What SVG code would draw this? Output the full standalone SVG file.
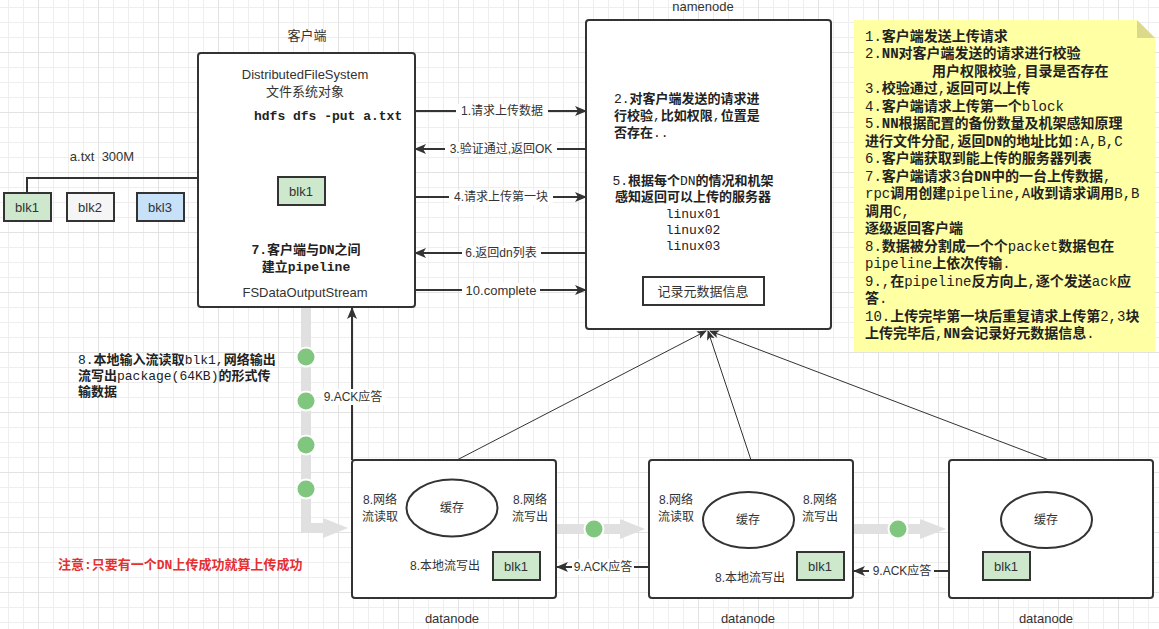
<svg xmlns="http://www.w3.org/2000/svg" width="1159" height="629" viewBox="0 0 1159 629">
<defs>
<pattern id="grid" x="38" y="52" width="60" height="60" patternUnits="userSpaceOnUse">
<rect width="60" height="60" fill="#fff"/>
<path d="M15.5,0V60M30.5,0V60M45.5,0V60M0,15.5H60M0,30.5H60M0,45.5H60" stroke="#eeeeee" stroke-width="1"/>
<path d="M0.5,0V60M0,0.5H60" stroke="#e2e2e2" stroke-width="1"/>
</pattern>
<marker id="a" viewBox="0 0 12 12" refX="11" refY="6" markerWidth="12" markerHeight="12" markerUnits="userSpaceOnUse" orient="auto"><path d="M0,1 L12,6 L0,11 L3,6 z" fill="#333"/></marker>
<marker id="as" viewBox="0 0 10 10" refX="9" refY="5" markerWidth="10" markerHeight="10" markerUnits="userSpaceOnUse" orient="auto"><path d="M0,1 L10,5 L0,9 L2.5,5 z" fill="#333"/></marker>
<style>
.box{fill:#fff;stroke:#333;stroke-width:2}
.t{font-family:"Liberation Sans","Noto Sans CJK SC",sans-serif;font-size:12px;fill:#333;text-anchor:middle;dominant-baseline:central}
.tl{font-size:13px}
.m{font-family:"Liberation Mono","Noto Sans CJK SC",monospace;font-size:13px;fill:#222;dominant-baseline:central;font-weight:bold}
.n{font-size:14px}
.r{font-weight:normal}
.e{stroke:#333;stroke-width:2;fill:none}
.thin{stroke:#333;stroke-width:1;fill:none}
.flow{stroke:#e0e0e0;stroke-width:10;fill:none}
.fh{fill:#e0e0e0}
.dot{fill:#80c67f;stroke:#fff;stroke-width:2}
.green{fill:#cde8cc;stroke:#333;stroke-width:2}
.lb{fill:#fff}
</style>
</defs>
<rect width="1159" height="629" fill="url(#grid)"/>

<g id="connectors">
<path class="flow" d="M306,307 V528 H324"/>
<polygon class="fh" points="323,518 348,528 323,538"/>
<path class="flow" d="M556,529 H621"/>
<polygon class="fh" points="620,519 645,529 620,539"/>
<path class="flow" d="M853,529 H921"/>
<polygon class="fh" points="920,519 946,529 920,539"/>
<circle class="dot" cx="306" cy="357" r="9.5"/>
<circle class="dot" cx="306" cy="401" r="9.5"/>
<circle class="dot" cx="306" cy="445" r="9.5"/>
<circle class="dot" cx="306" cy="489" r="9.5"/>
<circle class="dot" cx="594" cy="529" r="9.5"/>
<circle class="dot" cx="898" cy="529" r="9.5"/>

<path class="e" d="M415,111 H586" marker-end="url(#a)"/>
<path class="e" d="M586,149 H415" marker-end="url(#a)"/>
<path class="e" d="M415,197 H586" marker-end="url(#a)"/>
<path class="e" d="M586,253 H415" marker-end="url(#a)"/>
<path class="e" d="M415,290 H586" marker-end="url(#a)"/>
<path class="e" d="M27,193 V178 H228" marker-end="url(#a)"/>
<path class="e" d="M352,460 V308" marker-end="url(#a)"/>
<path class="e" d="M649,567 H557" marker-end="url(#a)"/>
<path class="e" d="M949,571 H854" marker-end="url(#a)"/>
<path class="thin" d="M457,460 L706,331" marker-end="url(#as)"/>
<path class="thin" d="M751,460 L708,331" marker-end="url(#as)"/>
<path class="thin" d="M1049,460 L710,331" marker-end="url(#as)"/>

<rect class="lb" x="456" y="104" width="92" height="15"/>
<text class="t" x="502" y="111">1.请求上传数据</text>
<rect class="lb" x="445" y="142" width="112" height="15"/>
<text class="t" x="501" y="149">3.验证通过,返回OK</text>
<rect class="lb" x="449" y="190" width="104" height="15"/>
<text class="t" x="501" y="197">4.请求上传第一块</text>
<rect class="lb" x="462" y="246" width="79" height="15"/>
<text class="t" x="501" y="253">6.返回dn列表</text>
<rect class="lb" x="462" y="283" width="78" height="15"/>
<text class="t tl" x="501" y="290">10.complete</text>
<rect class="lb" x="321" y="389" width="65" height="16"/>
<text class="t" x="353" y="397">9.ACK应答</text>
<rect class="lb" x="572" y="559" width="62" height="16"/>
<text class="t" x="603" y="567">9.ACK应答</text>
<rect class="lb" x="869" y="563" width="65" height="16"/>
<text class="t" x="902" y="571">9.ACK应答</text>
</g>

<g id="file">
<text class="t tl" x="102" y="156" xml:space="preserve">a.txt  300M</text>
<rect class="green" x="4" y="193" width="47" height="28"/>
<text class="t tl" x="27" y="207">blk1</text>
<rect x="67" y="193" width="47" height="28" fill="#f5f5f5" stroke="#333" stroke-width="2"/>
<text class="t tl" x="90" y="207">blk2</text>
<rect x="137" y="193" width="47" height="28" fill="#c7e1f9" stroke="#333" stroke-width="2"/>
<text class="t tl" x="160" y="207">bkl3</text>
</g>

<g id="client">
<text class="t tl" x="307" y="35">客户端</text>
<rect class="box" x="198" y="53" width="217" height="254" rx="3"/>
<text class="t tl" x="305" y="74">DistributedFileSystem</text>
<text class="t tl" x="305" y="91">文件系统对象</text>
<text class="m" x="254" y="116">hdfs dfs -put a.txt</text>
<rect class="green" x="278" y="177" width="47" height="28"/>
<text class="t tl" x="301" y="191">blk1</text>
<text class="m" x="306" y="250" text-anchor="middle">7.客户端与DN之间</text>
<text class="m" x="306" y="267" text-anchor="middle">建立pipeline</text>
<text class="t tl" x="305" y="292">FSDataOutputStream</text>
</g>

<g id="namenode">
<text class="t tl" x="703" y="6">namenode</text>
<rect class="box" x="586" y="20" width="245" height="309" rx="3"/>
<text class="m" x="614" y="99"><tspan class="r">2.</tspan>对客户端发送的请求进</text>
<text class="m" x="614" y="116">行校验<tspan class="r">,</tspan>比如权限<tspan class="r">,</tspan>位置是</text>
<text class="m" x="614" y="133">否存在<tspan class="r">..</tspan></text>
<text class="m" x="693" y="181" text-anchor="middle"><tspan class="r">5.</tspan>根据每个<tspan class="r">DN</tspan>的情况和机架</text>
<text class="m" x="693" y="197" text-anchor="middle">感知返回可以上传的服务器</text>
<text class="m r" x="693" y="214" text-anchor="middle">linux01</text>
<text class="m r" x="693" y="230" text-anchor="middle">linux02</text>
<text class="m r" x="693" y="246" text-anchor="middle">linux03</text>
<rect x="643" y="277" width="121" height="28" fill="#fff" stroke="#333" stroke-width="2"/>
<text class="t tl" x="703" y="291">记录元数据信息</text>
</g>

<g id="note">
<path d="M854,20 H1137 L1155,38 V352 H854 Z" fill="#ffffa3"/>
<path d="M1137,20 L1155,38 H1137 Z" fill="#dcd98a"/>
<g class="m n">
<text x="865" y="36.7"><tspan class="r">1.</tspan>客户端发送上传请求</text>
<text x="865" y="54.2"><tspan class="r">2.</tspan>NN对客户端发送的请求进行校验</text>
<text x="932" y="71.7">用户权限校验<tspan class="r">,</tspan>目录是否存在</text>
<text x="865" y="89.2"><tspan class="r">3.</tspan>校验通过<tspan class="r">,</tspan>返回可以上传</text>
<text x="865" y="106.7"><tspan class="r">4.</tspan>客户端请求上传第一个<tspan class="r">block</tspan></text>
<text x="865" y="124.2"><tspan class="r">5.</tspan>NN根据配置的备份数量及机架感知原理</text>
<text x="865" y="141.7">进行文件分配<tspan class="r">,</tspan>返回DN的地址比如<tspan class="r">:A,B,C</tspan></text>
<text x="865" y="159.2"><tspan class="r">6.</tspan>客户端获取到能上传的服务器列表</text>
<text x="865" y="176.7"><tspan class="r">7.</tspan>客户端请求<tspan class="r">3</tspan>台DN中的一台上传数据<tspan class="r">,</tspan></text>
<text x="865" y="194.2"><tspan class="r">rpc</tspan>调用创建<tspan class="r">pipeline,A</tspan>收到请求调用<tspan class="r">B,B</tspan></text>
<text x="865" y="211.7">调用<tspan class="r">C,</tspan></text>
<text x="865" y="229.2">逐级返回客户端</text>
<text x="865" y="246.7"><tspan class="r">8.</tspan>数据被分割成一个个<tspan class="r">packet</tspan>数据包在</text>
<text x="865" y="264.2"><tspan class="r">pipeline</tspan>上依次传输<tspan class="r">.</tspan></text>
<text x="865" y="281.7"><tspan class="r">9.,</tspan>在<tspan class="r">pipeline</tspan>反方向上<tspan class="r">,</tspan>逐个发送<tspan class="r">ack</tspan>应</text>
<text x="865" y="299.2">答<tspan class="r">.</tspan></text>
<text x="865" y="316.7"><tspan class="r">10.</tspan>上传完毕第一块后重复请求上传第<tspan class="r">2,3</tspan>块</text>
<text x="865" y="334.2">上传完毕后<tspan class="r">,</tspan>NN会记录好元数据信息<tspan class="r">.</tspan></text>
</g>
</g>

<g id="annotations">
<text class="m" x="78" y="360"><tspan class="r">8.</tspan>本地输入流读取<tspan class="r">blk1,</tspan>网络输出</text>
<text class="m" x="78" y="376">流写出<tspan class="r">package(64KB)</tspan>的形式传</text>
<text class="m" x="78" y="392">输数据</text>
<text class="m" x="58" y="565" style="fill:#e53030">注意:只要有一个DN上传成功就算上传成功</text>
</g>

<g id="datanode1">
<rect class="box" x="352" y="460" width="204" height="138" rx="3"/>
<ellipse cx="452" cy="508" rx="45.5" ry="28.5" fill="#fff" stroke="#333" stroke-width="2"/>
<text class="t" x="452" y="508">缓存</text>
<text class="t" x="380" y="500">8.网络</text>
<text class="t" x="380" y="517">流读取</text>
<text class="t" x="530" y="500">8.网络</text>
<text class="t" x="530" y="517">流写出</text>
<text class="t" x="445" y="566">8.本地流写出</text>
<rect class="green" x="493" y="552" width="47" height="28"/>
<text class="t tl" x="516" y="566">blk1</text>
<text class="t tl" x="452" y="618">datanode</text>
</g>

<g id="datanode2">
<rect class="box" x="649" y="460" width="204" height="138" rx="3"/>
<ellipse cx="748.5" cy="520" rx="45.5" ry="28" fill="#fff" stroke="#333" stroke-width="2"/>
<text class="t" x="748" y="520">缓存</text>
<text class="t" x="676" y="500">8.网络</text>
<text class="t" x="676" y="517">流读取</text>
<text class="t" x="820" y="500">8.网络</text>
<text class="t" x="820" y="517">流写出</text>
<text class="t" x="750" y="578">8.本地流写出</text>
<rect class="green" x="797" y="552" width="47" height="28"/>
<text class="t tl" x="820" y="566">blk1</text>
<text class="t tl" x="748" y="618">datanode</text>
</g>

<g id="datanode3">
<rect class="box" x="949" y="460" width="204" height="138" rx="3"/>
<ellipse cx="1046.5" cy="520" rx="45.5" ry="28" fill="#fff" stroke="#333" stroke-width="2"/>
<text class="t" x="1046" y="520">缓存</text>
<rect class="green" x="983" y="552" width="47" height="28"/>
<text class="t tl" x="1006" y="566">blk1</text>
<text class="t tl" x="1046" y="618">datanode</text>
</g>
</svg>
